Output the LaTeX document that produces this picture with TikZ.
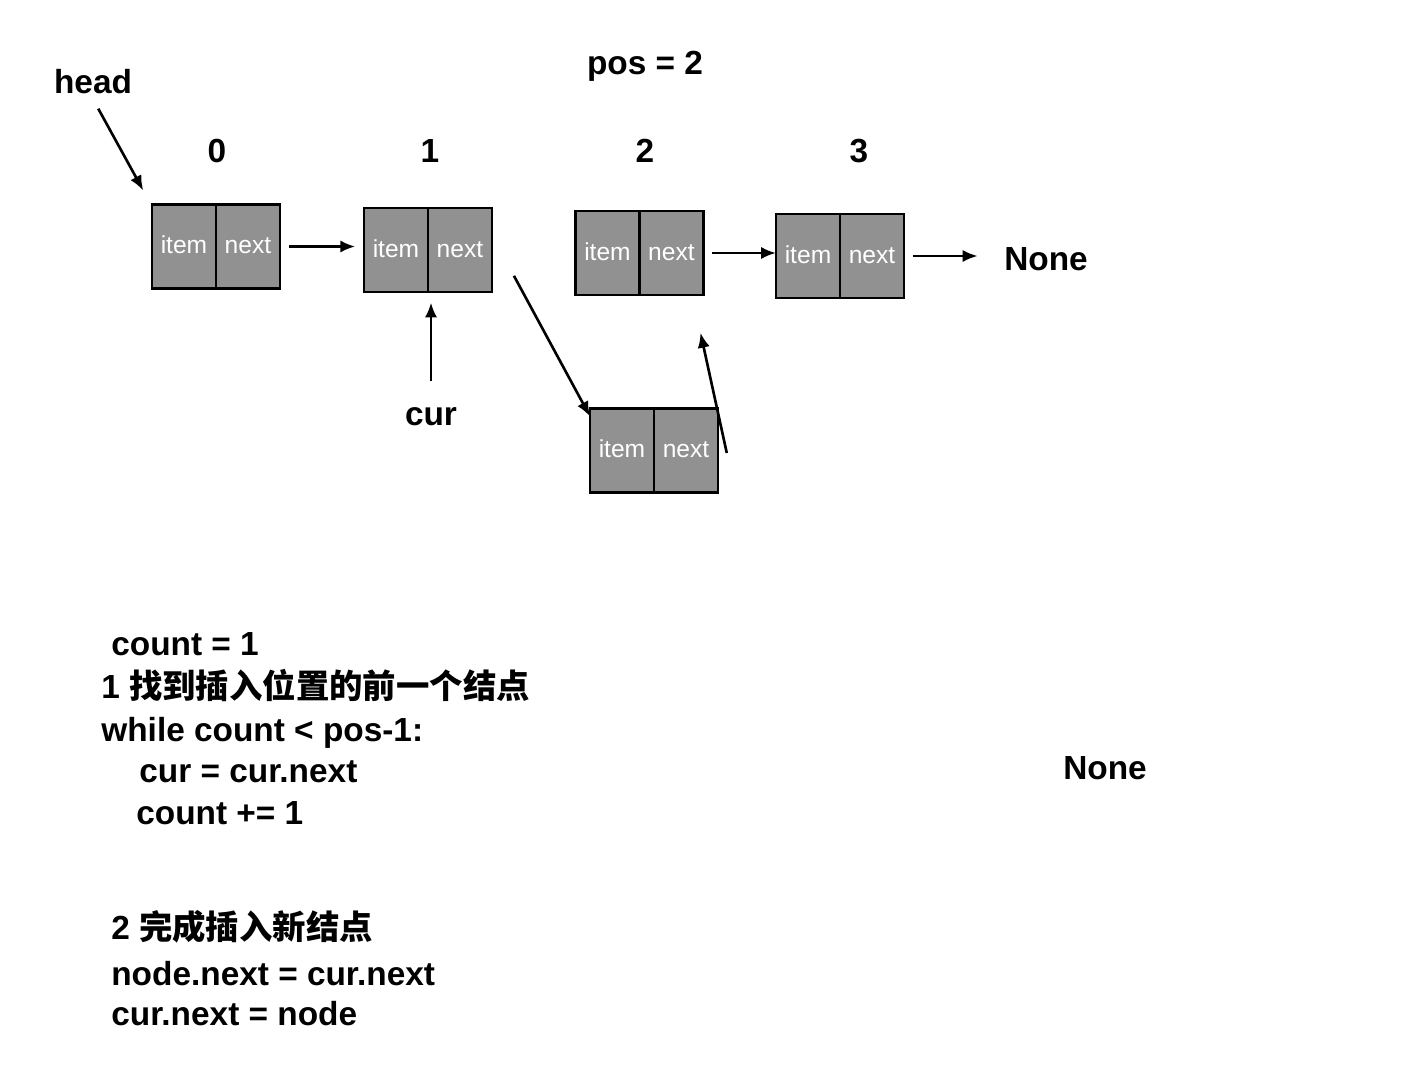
\documentclass[tikz,border=0pt]{standalone}
\usepackage{fontspec}
\setmainfont{Liberation Sans}
\newfontfamily\cjk{Noto Sans CJK SC}
\usetikzlibrary{positioning}
\usetikzlibrary{arrows.meta}
\definecolor{cellgray}{RGB}{145,145,145}
\tikzset{
  cell/.style={draw=black, line width=1.6pt, fill=cellgray, minimum width=1.28cm, minimum height=1.68cm,
    outer sep=0pt, inner sep=0pt, text=white, text height=1.6ex, text depth=0pt,
    font=\fontsize{14}{16}\selectfont},
  lbl/.style={font=\bfseries\fontsize{19}{22}\selectfont, inner sep=0pt},
  code/.style={lbl, anchor=west},
  link/.style={line width=1.5pt, -{Latex[length=8.5pt,width=7pt]}},
}

\begin{document}
\begin{tikzpicture}[x=0.02cm,y=-0.02cm]
\useasboundingbox (0,0) rectangle (1406,1068);
% les noeuds de la liste
\node[cell] (i0) at (184,246.5) {item};
\node[cell, right=0pt of i0] (n0) {next};
\node[cell] (i1) at (396,250) {item};
\node[cell, right=0pt of i1] (n1) {next};
\node[cell] (i2) at (607.5,253) {item};
\node[cell, right=0pt of i2] (n2) {next};
\node[cell] (i3) at (808,256) {item};
\node[cell, right=0pt of i3] (n3) {next};
% le nouveau noeud
\node[cell] (inew) at (622,450.5) {item};
\node[cell, right=0pt of inew] (nnew) {next};
% etiquettes
\node[lbl] (head) at (93,82) {head};
\node[lbl] (pos) at (645,66) {pos = 2};
\node[lbl] (k0) at (217,151) {0};
\node[lbl] (k1) at (430,151) {1};
\node[lbl] (k2) at (645,151) {2};
\node[lbl] (k3) at (859,151) {3};
\node[lbl] (cur) at (431,417) {cur};
\node[lbl] (none1) at (1046,259) {None};
\node[lbl] (none2) at (1105,768) {None};
% fleches
\draw[link] ([shift={(3pt,-8pt)}]head.south) -- ([shift={(-5pt,8pt)}]i0.north west);
\draw[link, shorten <=5pt, shorten >=5pt] (n0.east) -- (n0.east -| i1.west);
\draw[link, shorten <=5pt] (n2.east) -- (n2.east -| i3.west);
\draw[link, shorten <=5pt, shorten >=15pt] (n3.east) -- (n3.east -| none1.west);
\draw[link, shorten <=15pt, shorten >=6pt] (cur.north) -- (cur.north |- n1.south);
\draw[link] ([shift={(12.5pt,-14.7pt)}]n1.east) -- ([yshift=-4.5pt]inew.north west);
\draw[link] ([shift={(5pt,-1.4pt)}]nnew.east) -- ([shift={(-1.7pt,-21.5pt)}]n2.south east);
% le code
\node[code] (c1) at (111,644) {count = 1};
\node[code] (c2) at (101,686) {1 {\cjk 找到插入位置的前一个结点}};
\node[code] (c3) at (101,733) {while count < pos-1:};
\node[code] (c4) at (139,772) {cur = cur.next};
\node[code] (c5) at (136,813) {count += 1};
\node[code] (c6) at (111,927) {2 {\cjk 完成插入新结点}};
\node[code] (c7) at (111,974) {node.next = cur.next};
\node[code] (c8) at (111,1014) {cur.next = node};
\end{tikzpicture}
\end{document}
